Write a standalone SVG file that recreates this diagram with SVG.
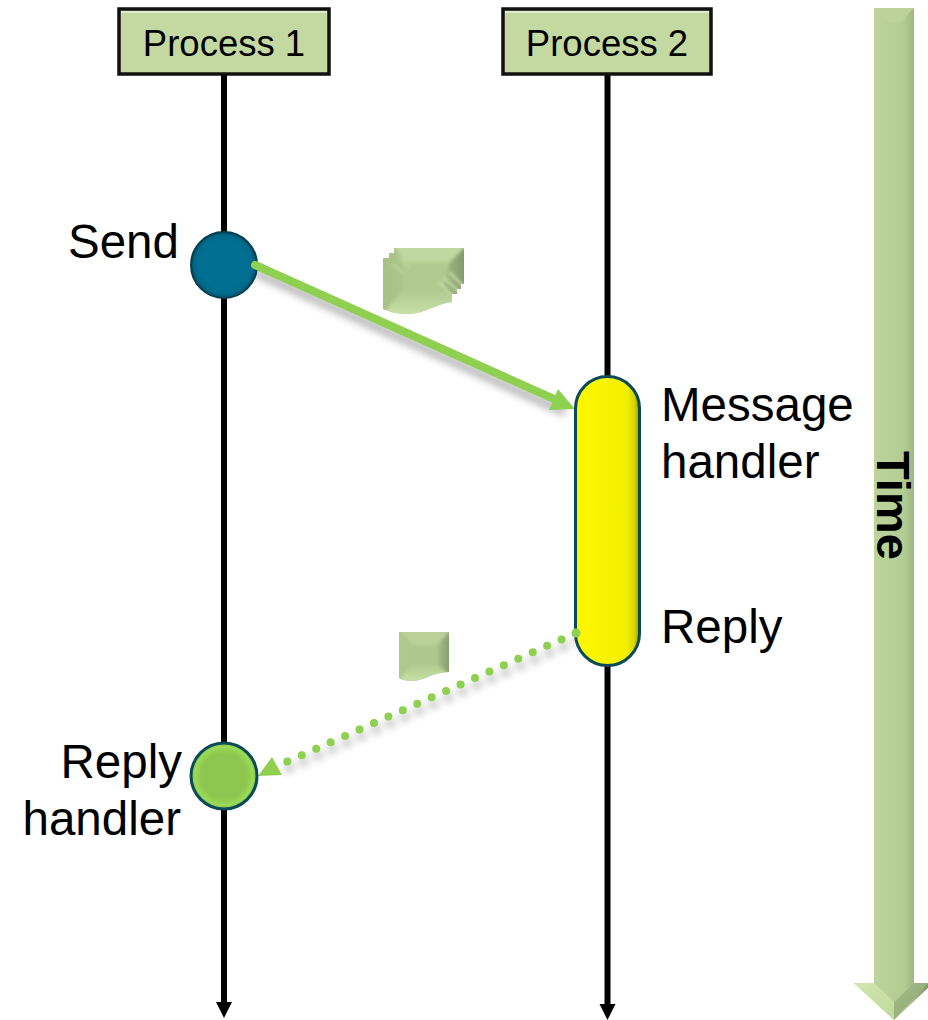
<svg xmlns="http://www.w3.org/2000/svg" width="928" height="1020" viewBox="0 0 928 1020">
<style>
text{font-family:"Liberation Sans",Arial,sans-serif;fill:#000}
.lg{font-size:47.500px}
.pr{font-size:36.500px;text-anchor:middle}
.box{fill:#c4d9a2;stroke:#111;stroke-width:3.500}
.hl{fill:none;stroke:#dfeccb;stroke-width:2}
.life{fill:none;stroke:#000;stroke-width:6}
.lh{fill:#000}
.lsh{fill:none;stroke:#000;stroke-width:10;opacity:.35}
</style>
<defs>
<filter id="sh" x="-50%" y="-50%" width="200%" height="200%"><feGaussianBlur stdDeviation="4"/></filter>
<filter id="ls" x="-2000%" y="-5%" width="4100%" height="110%"><feGaussianBlur stdDeviation="3"/></filter>
<filter id="soft" x="-20%" y="-20%" width="140%" height="140%"><feGaussianBlur stdDeviation="1.500"/></filter>
<radialGradient id="blue"><stop offset="0.72" stop-color="#006f91"/><stop offset="0.88" stop-color="#006a8c"/><stop offset="0.96" stop-color="#045a74"/><stop offset="1" stop-color="#0a3e4e"/></radialGradient>
<radialGradient id="green"><stop offset="0.7" stop-color="#8ec74f"/><stop offset="0.9" stop-color="#9bdc58"/><stop offset="1" stop-color="#74a842"/></radialGradient>
<linearGradient id="yel" x1="0" x2="1" y1="0" y2="0"><stop offset="0" stop-color="#fff700"/><stop offset="0.8" stop-color="#f2f000"/><stop offset="0.92" stop-color="#d8d400"/><stop offset="1" stop-color="#9a9600"/></linearGradient>
<linearGradient id="shaft" x1="0" x2="1" y1="0" y2="0"><stop offset="0" stop-color="#a9c488"/><stop offset="0.25" stop-color="#bdd59c"/><stop offset="0.68" stop-color="#b3cc93"/><stop offset="1" stop-color="#809768"/></linearGradient>
<linearGradient id="headL" x1="0" x2="1" y1="0" y2="1"><stop offset="0" stop-color="#d0e6ae"/><stop offset="1" stop-color="#c0da9c"/></linearGradient>
<linearGradient id="headR" x1="0" x2="1" y1="0" y2="1"><stop offset="0" stop-color="#a3bb85"/><stop offset="1" stop-color="#8ea777"/></linearGradient>
<linearGradient id="rb" x1="0" x2="1" y1="0" y2="0"><stop offset="0" stop-color="#a9c189"/><stop offset="1" stop-color="#7f9669"/></linearGradient>
<linearGradient id="lb" x1="0" x2="1" y1="0" y2="0"><stop offset="0" stop-color="#a6c085"/><stop offset="1" stop-color="#bcd49b"/></linearGradient>
<linearGradient id="wave" x1="0" x2="0" y1="0" y2="1"><stop offset="0" stop-color="#b0c990"/><stop offset="1" stop-color="#cbe4a9"/></linearGradient>
<clipPath id="c1"><path d="M394 248H464V284H461V289H457V294H452V302C435 304 425 314 407 314C398 314 390 312 383 309V258H389V253H394Z"/></clipPath>
<clipPath id="c2"><path d="M399 632H449V672C432 672 425 681 412 681C406 681 402 680 399 678Z"/></clipPath>
</defs>

<g id="time-arrow">
<path d="M874 8H914V983H928V988L894 1020L854 983H874Z" fill="url(#shaft)"/>
<path d="M874 8H914L900 22H888Z" fill="#bbd39a"/>
<path d="M854 983H874L894 1002V1020Z" fill="url(#headL)"/>
<path d="M914 983H928L894 1020V1002Z" fill="url(#headR)"/>
<text transform="translate(877 451) rotate(90)" style="font-size:47px;font-weight:bold">Time</text>
</g>

<g id="connectors">
<path class="lsh" d="M228 78V1008" filter="url(#ls)"/>
<path class="lsh" d="M612 78V1008" filter="url(#ls)"/>
<path class="life" d="M224 75V1003"/>
<path class="lh" d="M216 1002H232L224 1018Z"/>
<path class="life" d="M607.500 75V1005"/>
<path class="lh" d="M599.500 1004H615.500L607.500 1020Z"/>
<g fill="none" opacity="0.35" filter="url(#sh)"><path d="M255 272L565 412" stroke="#000" stroke-width="7"/><path d="M578 640L280 772" stroke="#000" stroke-width="8" stroke-linecap="round" stroke-dasharray="0 15.8"/></g>
<path d="M255 265L563 403" fill="none" stroke="#8fd050" stroke-width="8" stroke-linecap="round"/>
<path d="M575 409L549 410L558 389Z" fill="#8fd050"/>
<path d="M576 633L282 764" fill="none" stroke="#8fd050" stroke-width="8" stroke-linecap="round" stroke-dasharray="0 15.8"/>
<path d="M258 776L272 757L282 775Z" fill="#8fd050"/>
</g>

<g id="process-1">
<rect class="box" x="119" y="9" width="210" height="65"/>
<path class="hl" d="M121 12H327"/>
<text class="pr" x="224" y="56">Process 1</text>
</g>
<g id="process-2">
<rect class="box" x="503" y="9" width="208" height="65"/>
<path class="hl" d="M505 12H709"/>
<text class="pr" x="607" y="56">Process 2</text>
</g>

<g id="send">
<circle cx="224" cy="265" r="33" fill="url(#blue)" stroke="#063f50" stroke-width="2"/>
<path d="M255 265L262 268" stroke="#8fd050" stroke-width="8" stroke-linecap="round"/>
<text class="lg" x="68" y="258">Send</text>
</g>

<g id="reply-handler">
<circle cx="224" cy="776" r="33" fill="url(#green)" stroke="#0b4a58" stroke-width="3"/>
<text class="lg" x="182" y="778" text-anchor="end">Reply</text>
<text class="lg" x="181" y="835" text-anchor="end">handler</text>
</g>

<g id="message-handler">
<rect x="575.500" y="376.500" width="64" height="289" rx="32" fill="url(#yel)" stroke="#0b4a58" stroke-width="3"/>
<circle cx="576" cy="633" r="4.500" fill="#8fd050"/>
<text class="lg" x="661" y="421">Message</text>
<text class="lg" x="661" y="478">handler</text>
<text class="lg" x="661" y="643">Reply</text>
</g>

<g id="message-icon-large" clip-path="url(#c1)">
<rect x="383" y="248" width="81" height="66" fill="#b1ca90"/>
<g filter="url(#soft)">
<path d="M380 245H467L450 262H403V295L380 318Z" fill="url(#lb)"/>
<path d="M394 245H467L450 262H404Z" fill="#bfd7a0"/>
<path d="M467 245V300H440L450 262Z" fill="url(#rb)"/>
<path d="M380 318L403 290H445L455 300V318Z" fill="url(#wave)"/>
<path d="M444 277L464 297M439 282L459 302M449 272L469 292" stroke="#c9e0a9" stroke-width="2"/>
<path d="M398 258L410 268M392 264L404 274" stroke="#c9e0a9" stroke-width="1.500" opacity="0.7"/>
</g>
</g>

<g id="message-icon-small" clip-path="url(#c2)">
<rect x="399" y="632" width="50" height="50" fill="#aec78e"/>
<g filter="url(#soft)">
<path d="M396 629H452L437 645H412V664L396 684Z" fill="#afc88f"/>
<path d="M399 629H452L437 645H412Z" fill="#b9d199"/>
<path d="M452 629V676L437 664V645Z" fill="url(#rb)"/>
<path d="M396 684L412 664H437L452 680V684Z" fill="url(#wave)"/>
</g>
</g>
</svg>
